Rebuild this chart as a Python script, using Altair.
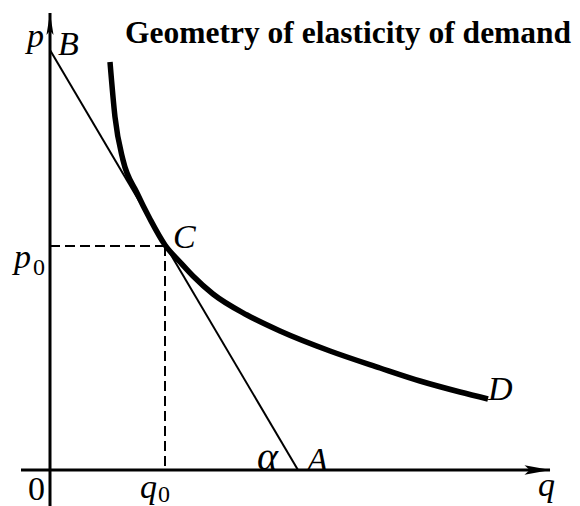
import altair as alt
import pandas as pd

# Demand curve (q, p)
curve_q = [1.20, 1.30, 1.46, 1.74, 2.00, 2.30, 2.60, 2.86, 3.26, 3.94, 4.60, 5.60, 6.60, 7.40, 8.20, 8.76]
curve_p = [8.16, 7.06, 6.20, 5.54, 5.02, 4.50, 4.16, 3.88, 3.52, 3.10, 2.78, 2.38, 2.04, 1.78, 1.56, 1.42]

# Tangent line B -> A
tangent_q = [0.0, 4.96]
tangent_p = [8.40, 0.0]

# Point C
q0 = 2.30
p0 = 4.48

# Axes extents
xaxis_q = [-0.58, 10.0]
yaxis_p = [-0.72, 9.14]

XD = [-0.84, 10.44]
YD = [-0.72, 9.24]
W, H = 564, 498

SERIF = "Liberation Serif, Times New Roman, Times, serif"

xs = alt.Scale(domain=XD, nice=False, zero=False)
ys = alt.Scale(domain=YD, nice=False, zero=False)


def X(f="q"):
    return alt.X(f"{f}:Q", scale=xs, axis=None)


def Y(f="p"):
    return alt.Y(f"{f}:Q", scale=ys, axis=None)


curve_df = pd.DataFrame({"q": curve_q, "p": curve_p, "i": range(len(curve_q))})
tan_df = pd.DataFrame({"q": tangent_q, "p": tangent_p, "i": [0, 1]})
xaxis_df = pd.DataFrame({"q": xaxis_q, "p": [0, 0], "i": [0, 1]})
yaxis_df = pd.DataFrame({"q": [0, 0], "p": yaxis_p, "i": [0, 1]})
hdash_df = pd.DataFrame({"q": [0, q0], "p": [p0, p0], "i": [0, 1]})
vdash_df = pd.DataFrame({"q": [q0, q0], "p": [p0, 0], "i": [0, 1]})

xaxis = alt.Chart(xaxis_df).mark_line(color="black", strokeWidth=3).encode(x=X(), y=Y(), order="i:Q")
yaxis = alt.Chart(yaxis_df).mark_line(color="black", strokeWidth=3).encode(x=X(), y=Y(), order="i:Q")

arrow_right = "M1,0 L-1,-0.36 L-0.6,0 L-1,0.36 Z"
arrow_up = "M0,-1 L0.32,1 L0,0.6 L-0.32,1 Z"

xarrow = alt.Chart(pd.DataFrame({"q": [9.75], "p": [0.0]})).mark_point(
    shape=arrow_right, size=676, filled=True, color="black", opacity=1, strokeWidth=0
).encode(x=X(), y=Y())
yarrow = alt.Chart(pd.DataFrame({"q": [0.0], "p": [8.92]})).mark_point(
    shape=arrow_up, size=484, filled=True, color="black", opacity=1, strokeWidth=0
).encode(x=X(), y=Y())

tangent = alt.Chart(tan_df).mark_line(color="black", strokeWidth=2).encode(x=X(), y=Y(), order="i:Q")
curve = alt.Chart(curve_df).mark_line(color="black", strokeWidth=5.5, interpolate="monotone").encode(
    x=X(), y=Y(), order="i:Q"
)
hdash = alt.Chart(hdash_df).mark_line(color="black", strokeWidth=2, strokeDash=[10, 5]).encode(
    x=X(), y=Y(), order="i:Q"
)
vdash = alt.Chart(vdash_df).mark_line(color="black", strokeWidth=2, strokeDash=[10, 5]).encode(
    x=X(), y=Y(), order="i:Q"
)


def label(text, q, p, size=34, style="italic", weight="normal"):
    return alt.Chart(pd.DataFrame({"q": [q], "p": [p], "t": [text]})).mark_text(
        align="left", baseline="alphabetic", font=SERIF, fontSize=size,
        fontStyle=style, fontWeight=weight, color="black"
    ).encode(x=X(), y=Y(), text="t:N")


labels = [
    label("p", -0.46, 8.46),
    label("B", 0.16, 8.30),
    label("C", 2.46, 4.44),
    label("D", 8.76, 1.40),
    label("A", 5.14, -0.02),
    label("α", 4.14, 0.0, size=40, style="italic"),
    label("0", -0.44, -0.60, style="normal"),
    label("q", 1.80, -0.56),
    label("0", 2.16, -0.64, size=24, style="normal"),
    label("q", 9.76, -0.52),
    label("p", -0.72, 4.04),
    label("0", -0.34, 3.90, size=24, style="normal"),
    label("Geometry of elasticity of demand", 1.50, 8.54, size=31.5, style="normal", weight="bold"),
]

chart = alt.layer(
    hdash, vdash, xaxis, yaxis, xarrow, yarrow, tangent, curve, *labels
).properties(
    width=W, height=H, padding=0, autosize="none"
).configure_view(stroke=None)

chart.save("out.html", embed_options={"renderer": "svg", "actions": False})
